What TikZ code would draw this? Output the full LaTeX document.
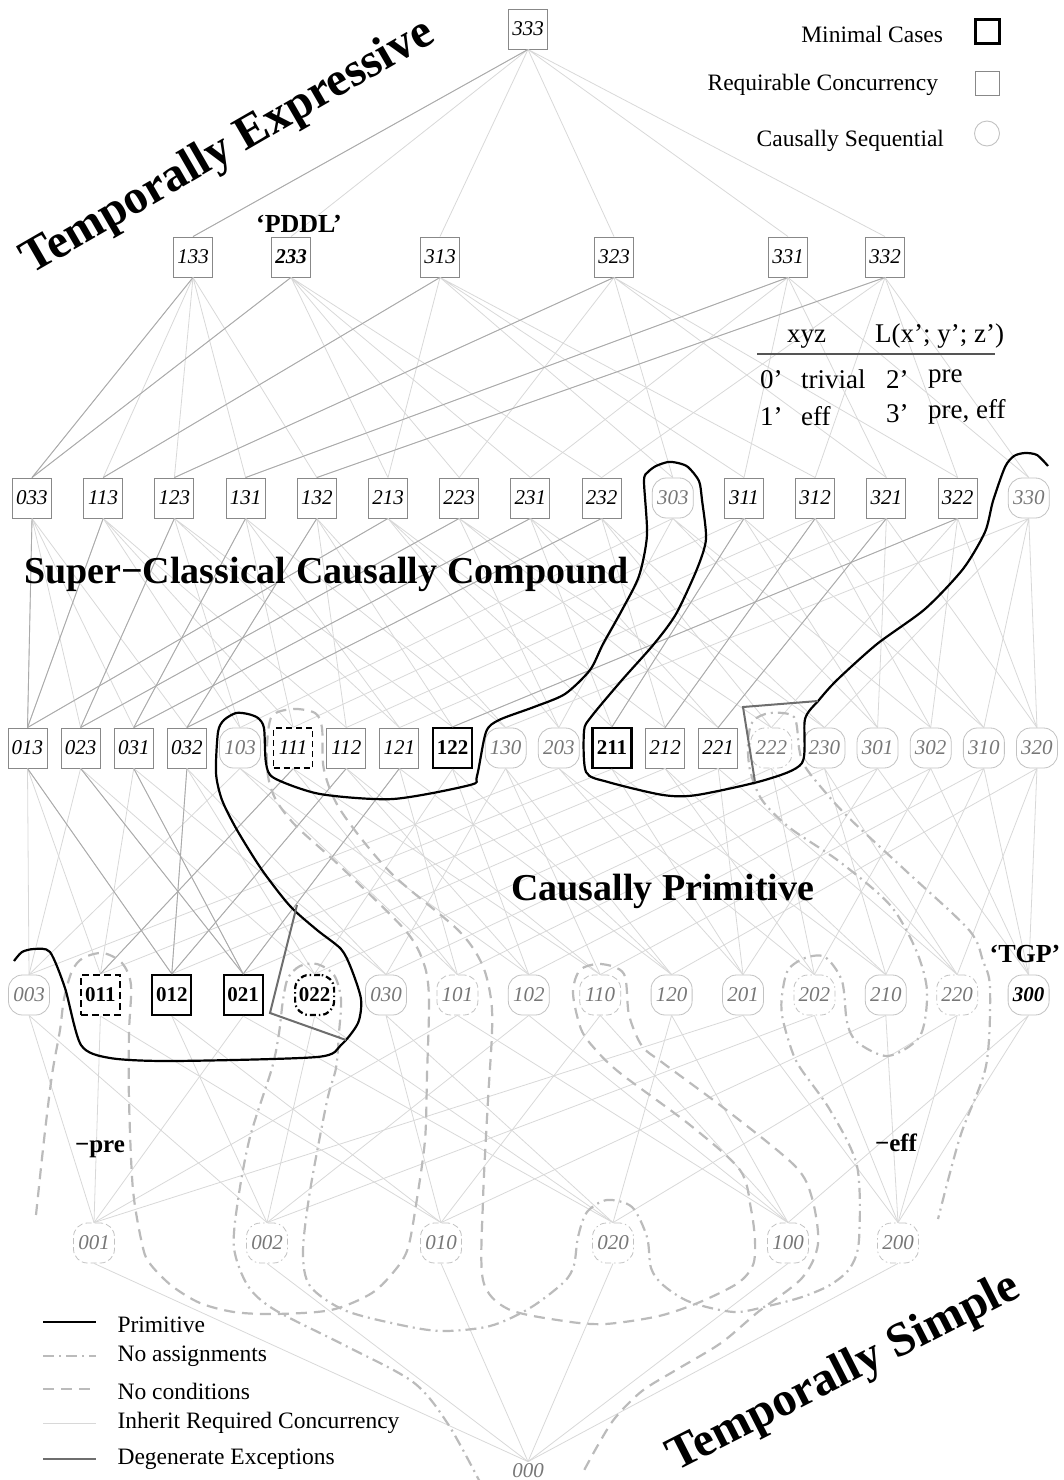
\documentclass[tikz,border=0pt]{standalone}
\usepackage{fontspec}
\setmainfont{Liberation Serif}
\usepackage{xcolor}
\renewcommand{\small}{\fontsize{21}{25}\selectfont}
\renewcommand{\normalsize}{\fontsize{23.5}{28}\selectfont}
\renewcommand{\large}{\fontsize{27}{32}\selectfont}
\renewcommand{\Large}{\fontsize{38}{45}\selectfont}
\renewcommand{\Huge}{\fontsize{48}{58}\selectfont}
\definecolor{ink}{HTML}{000000}
\definecolor{rcgray}{HTML}{888888}
\definecolor{csgray}{HTML}{C2C2C2}
\definecolor{cstext}{HTML}{777777}
\definecolor{linkgray}{HTML}{D8D8D8}
\definecolor{treegray}{HTML}{AAAAAA}
\definecolor{curvegray}{HTML}{BBBBBB}
\definecolor{degencol}{HTML}{6E6E6E}
\definecolor{rulegray}{HTML}{555555}

\begin{document}
\begin{tikzpicture}[x=1pt,y=-1pt,
  lab/.style={font=\small\itshape,inner sep=0pt,minimum width=39pt,minimum height=40pt},
  rcbox/.style={lab,draw=rcgray,line width=0.9pt},
  rcnc/.style={lab,draw=ink,line width=1.3pt,dash pattern=on 6pt off 4pt},
  rcpddl/.style={rcbox,font=\small\bfseries\itshape},
  csbox/.style={lab,draw=csgray,text=cstext,line width=0.8pt,rounded corners=14pt,minimum width=41pt},
  csnc/.style={csbox,dash pattern=on 6pt off 3pt},
  csna/.style={csbox,dash pattern=on 6pt off 3pt on 1.5pt off 3pt},
  cstgp/.style={csbox,text=ink,font=\small\bfseries\itshape},
  minbox/.style={lab,draw=ink,line width=2.2pt,font=\small\bfseries},
  minnc/.style={minbox,dash pattern=on 7pt off 4pt},
  minna/.style={minbox,rounded corners=14pt,dash pattern=on 6pt off 3pt on 1.5pt off 3pt},
  link/.style={draw=linkgray,line width=0.8pt},
  treelink/.style={draw=treegray,line width=0.9pt},
  prim/.style={draw=ink,line width=2.2pt},
  nocond/.style={draw=curvegray,line width=2.2pt,dash pattern=on 11pt off 7pt},
  noassign/.style={draw=curvegray,line width=2.2pt,dash pattern=on 11pt off 5pt on 2pt off 5pt},
  degen/.style={draw=degencol,line width=2pt},
  region/.style={font=\Large\bfseries,inner sep=0pt},
]
  \useasboundingbox (0,0) rectangle (1064,1480);

  % --- the lattice, rank by rank ---
  \node[rcbox] (n333) at (528,29) {333};

  \node[rcbox]  (n133) at (193,257) {133};
  \node[rcpddl] (n233) at (291,257) {233};
  \node[rcbox]  (n313) at (440,257) {313};
  \node[rcbox]  (n323) at (614,257) {323};
  \node[rcbox]  (n331) at (788,257) {331};
  \node[rcbox]  (n332) at (885,257) {332};

  \foreach \lab/\sty [count=\i from 0] in {033/rcbox,113/rcbox,123/rcbox,131/rcbox,132/rcbox,
      213/rcbox,223/rcbox,231/rcbox,232/rcbox,303/csbox,311/rcbox,312/rcbox,321/rcbox,322/rcbox,330/csbox}
    \node[\sty] (n\lab) at ({32+71.2*\i},498) {\lab};

  \foreach \lab/\sty [count=\i from 0] in {013/rcbox,023/rcbox,031/rcbox,032/rcbox,103/csbox,
      111/rcnc,112/rcbox,121/rcbox,122/minbox,130/csbox,203/csbox,211/minbox,212/rcbox,221/rcbox,
      222/csna,230/csbox,301/csbox,302/csbox,310/csbox,320/csbox}
    \node[\sty] (n\lab) at ({27.5+53.13*\i},748) {\lab};

  \foreach \lab/\sty [count=\i from 0] in {003/csbox,011/minnc,012/minbox,021/minbox,022/minna,
      030/csbox,101/csnc,102/csbox,110/csnc,120/csbox,201/csbox,202/csna,210/csbox,220/csna,300/cstgp}
    \node[\sty] (n\lab) at ({29+71.4*\i},995) {\lab};

  \node[csnc] (n001) at (94,1243) {001};
  \node[csna] (n002) at (267,1243) {002};
  \node[csnc] (n010) at (441,1243) {010};
  \node[csna] (n020) at (613,1243) {020};
  \node[csnc] (n100) at (788,1243) {100};
  \node[csna] (n200) at (898,1243) {200};

  \node[csnc,minimum height=18pt,draw=none] (n000) at (528,1471) {000};

  % --- covering edges: 3 -> 1,2 and 1,2 -> 0 in each place ---
  \foreach \x in {0,...,3}{\foreach \y in {0,...,3}{\foreach \z in {0,...,3}{
    \ifnum\x=3 \draw[link] (n\x\y\z.south) -- (n1\y\z.north) (n\x\y\z.south) -- (n2\y\z.north);\fi
    \ifnum\x=1 \draw[link] (n\x\y\z.south) -- (n0\y\z.north);\fi
    \ifnum\x=2 \draw[link] (n\x\y\z.south) -- (n0\y\z.north);\fi
    \ifnum\y=3 \draw[link] (n\x\y\z.south) -- (n\x1\z.north) (n\x\y\z.south) -- (n\x2\z.north);\fi
    \ifnum\y=1 \draw[link] (n\x\y\z.south) -- (n\x0\z.north);\fi
    \ifnum\y=2 \draw[link] (n\x\y\z.south) -- (n\x0\z.north);\fi
    \ifnum\z=3 \draw[link] (n\x\y\z.south) -- (n\x\y1.north) (n\x\y\z.south) -- (n\x\y2.north);\fi
    \ifnum\z=1 \draw[link] (n\x\y\z.south) -- (n\x\y0.north);\fi
    \ifnum\z=2 \draw[link] (n\x\y\z.south) -- (n\x\y0.north);\fi
  }}}

  % --- darker edges down to the minimal cases ---
  \foreach \a/\b in {333/133,133/033,233/033,313/113,323/123,331/131,332/132,
      033/013,113/013,123/023,131/031,132/032,213/013,223/023,231/031,232/032,
      311/211,312/212,321/221,322/122,
      013/012,023/021,031/021,032/012,111/011,112/012,121/021}
    \draw[treelink] (n\a.south) -- (n\b.north);

  % --- no conditions ---
  \draw[nocond] plot[smooth,tension=0.5] coordinates {(36,1215) (44,1140) (52,1075) (60,1030)
    (64,999) (72,971) (83,958) (103,953) (122,963) (131,985) (129,1033) (129,1100) (133,1190)
    (143,1248) (151,1265) (172,1286) (200,1303) (234,1312) (275,1314) (331,1310) (372,1293)
    (396,1269) (408,1248) (416,1205) (425,1140) (427,1075) (429,999) (424,964) (405,930)
    (340,866) (296,826) (276,800) (268,776) (267,745) (272,716) (293,709) (315,713) (322,728)
    (324,770) (341,811) (390,872) (458,930) (482,964) (491,999) (492,1033) (488,1100)
    (483,1200) (483,1280) (508,1309) (564,1321) (605,1324) (659,1316) (700,1302) (738,1283)
    (753,1265) (755,1241) (751,1209) (740,1170) (690,1125) (620,1073) (595,1049) (581,1029)
    (573,993) (580,970) (601,964) (624,974) (629,1015) (642,1046) (663,1063) (729,1112)
    (795,1166) (812,1198) (818,1244) (802,1278) (758,1312) (721,1343) (676,1370) (642,1391)
    (615,1418) (598,1445) (581,1476)};

  % --- no assignments ---
  \draw[noassign] plot[smooth,tension=0.5] coordinates {(482,1486) (448,1424) (413,1382)
    (344,1345) (275,1310) (248,1286) (234,1248) (238,1200) (250,1137) (272,1068) (279,1033)
    (283,1000) (288,978) (300,966) (317,964) (334,975) (341,999) (339,1033) (336,1068)
    (327,1101) (310,1191) (303,1252) (310,1286) (344,1310) (396,1324) (441,1331) (490,1326)
    (530,1308) (564,1282) (574,1265) (578,1237) (587,1212) (607,1200) (632,1207) (647,1237)
    (651,1268) (663,1285) (690,1302) (734,1312) (768,1306) (802,1297) (830,1285) (850,1268)
    (859,1240) (857,1166) (830,1110) (799,1066) (789,1042) (782,1015) (782,995) (788,970)
    (805,958) (825,957) (842,981) (847,1022) (857,1042) (888,1056) (920,1036) (927,991)
    (916,950) (890,905) (840,862) (790,828) (762,800) (750,770) (748,741) (753,721) (770,713)
    (794,717) (799,748) (803,763) (815,780) (847,816) (905,870) (969,930) (983,961) (990,988)
    (986,1066) (960,1137) (938,1219)};

  % --- primitive ---
  \draw[prim] plot[smooth,tension=0.45] coordinates {(14,961) (22,952) (34,949) (50,952)
    (65,988) (81,1045) (110,1058) (172,1061) (317,1057) (341,1045) (358,1023) (361,999)
    (351,968) (341,949) (317,930) (290,906) (262,870) (237,830) (222,800) (216,773) (218,732)
    (224,720) (236,713) (248,714) (258,718) (264,728) (266,763) (274,778) (320,794) (393,799)
    (470,785) (477,776) (486,732) (499,720) (534,707) (565,694) (590,670) (603,644) (622,610)
    (639,576) (647,535) (644,481) (648,472) (656,466) (668,462) (678,463) (688,467) (699,481)
    (702,500) (706,539) (697,569) (676,614) (654,644) (622,680) (591,717) (584,731) (586,772)
    (608,782) (663,795) (697,795) (765,780) (802,763) (805,719) (819,700) (837,680) (877,644)
    (925,609) (963,569) (985,532) (993,501) (1005,467) (1014,456) (1025,453) (1037,455)
    (1048,466)};

  % --- degenerate exceptions ---
  \draw[degen] (297,905) -- (270,1013) -- (346,1040);
  \draw[degen] (755,782) -- (743,707) -- (818,701);

  % --- region names ---
  \node[font=\Huge\bfseries,inner sep=0pt,anchor=base west,rotate=30] (texp) at (31,275) {Temporally Expressive};
  \node[font=\Huge\bfseries,inner sep=0pt,anchor=base west,rotate=27] (tsim) at (676,1472) {Temporally Simple};
  \node[region,anchor=base west] (scc) at (24,583) {Super−Classical Causally Compound};
  \node[region,anchor=base west] (cprim) at (511,900) {Causally Primitive};
  \node[font=\fontsize{26}{30}\selectfont\bfseries,anchor=base] (pddl) at (299,232) {‘PDDL’};
  \node[font=\fontsize{26}{30}\selectfont\bfseries,anchor=base] (tgp) at (1025,962) {‘TGP’};
  \node[font=\fontsize{25}{30}\selectfont\bfseries,anchor=base] (mpre) at (100,1152) {−pre};
  \node[font=\fontsize{25}{30}\selectfont\bfseries,anchor=base] (meff) at (896,1151) {−eff};

  % --- key to the node shapes ---
  \node[font=\normalsize,anchor=base east] (kmin) at (951,42.6) {Minimal Cases};
  \node[font=\normalsize,anchor=base east] (krc) at (946,90) {Requirable Concurrency};
  \node[font=\normalsize,anchor=base east] (kcs) at (952,146.5) {Causally Sequential};
  \node[draw=ink,line width=2.4pt,minimum size=24pt,inner sep=0pt] (smin) at (987.4,31.5) {};
  \node[draw=rcgray,line width=0.9pt,minimum size=24pt,inner sep=0pt] (src) at (987,83.5) {};
  \node[draw=csgray,line width=0.9pt,circle,minimum size=25pt,inner sep=0pt] (scs) at (987,133.5) {};

  % --- table of the labels ---
  \node[font=\large,anchor=base west] (txyz) at (779,342) {xyz};
  \node[font=\large,anchor=base west] (tl) at (867,342) {L(x’; y’; z’)};
  \draw[draw=rulegray,line width=1.3pt] (757,354) -- (995,354);
  \node[font=\large,anchor=base west] (t0) at (752,388) {0’};
  \node[font=\large,anchor=base west] (ttriv) at (793,388) {trivial};
  \node[font=\large,anchor=base west] (t2) at (878,388) {2’};
  \node[font=\large,anchor=base west] (tpre) at (920,382) {pre};
  \node[font=\large,anchor=base west] (t1) at (752,425) {1’};
  \node[font=\large,anchor=base west] (teff) at (793,425) {eff};
  \node[font=\large,anchor=base west] (t3) at (878,422) {3’};
  \node[font=\large,anchor=base west] (tpe) at (920,418) {pre, eff};

  % --- key to the lines ---
  \draw[prim] (43,1322) -- (96,1322);
  \draw[noassign] (43,1356) -- (96,1356);
  \draw[nocond] (43,1389) -- (96,1389);
  \draw[link] (43,1423) -- (96,1423);
  \draw[degen] (43,1459) -- (96,1459);
  \node[font=\normalsize,anchor=base west] (lprim) at (109.5,1332) {Primitive};
  \node[font=\normalsize,anchor=base west] (lna) at (109.5,1361) {No assignments};
  \node[font=\normalsize,anchor=base west] (lnc) at (109.5,1399) {No conditions};
  \node[font=\normalsize,anchor=base west] (lirc) at (109.5,1428) {Inherit Required Concurrency};
  \node[font=\normalsize,anchor=base west] (ldeg) at (109.5,1464.5) {Degenerate Exceptions};
\end{tikzpicture}
\end{document}
